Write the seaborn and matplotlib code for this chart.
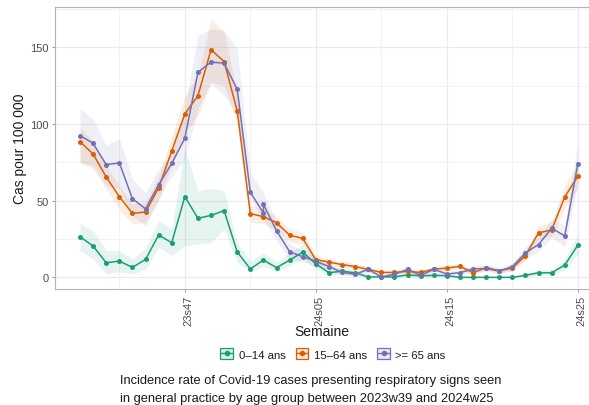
import numpy as np
import pandas as pd
import seaborn as sns
import matplotlib.pyplot as plt
from matplotlib.patches import Patch
from matplotlib.lines import Line2D
from matplotlib.ticker import MultipleLocator
from matplotlib.transforms import ScaledTranslation

# semaines 2023s39 -> 2024s25
weeks = ['23s%02d' % w for w in range(39, 53)] + ['24s%02d' % w for w in range(1, 26)]
tick_weeks = ['23s47', '24s05', '24s15', '24s25']

groups = ['0\u201314 ans', '15\u201364 ans', '>= 65 ans']
colors = ['#1B9E77', '#D95F02', '#7570B3']

inc_0_14 = [26.5, 20.4, 9.5, 10.6, 6.5, 11.7, 27.6, 22.6, 52.6, 38.5, 40.4, 43.5, 16.5,
            5.5, 11.3, 6.3, 11.2, 16.4, 8.8, 3, 4, 2.9, 0.3, 0.3, 0.3, 1.6, 1.0, 1.3,
            1.1, 0, 0, 0, 0, 0, 1.3, 3, 3, 8, 21]
low_0_14 = [17.4, 12, 2.2, 3.7, 2.2, 5.4, 19.6, 14, 20.6, 21.7, 22.8, 31.5, 9.8,
            3.3, 7.5, 3.5, 7.5, 12, 5.5, 1.5, 2, 1.2, 0, 0, 0, 0.5, 0.2, 0.4,
            0.3, 0, 0, 0, 0, 0, 0.4, 1.5, 1.5, 5, 15]
up_0_14 = [35.2, 30.4, 17.4, 17.4, 12, 19, 37, 31.5, 83.7, 56.5, 58, 56.5, 22.8,
           10.8, 16, 10, 16, 21.5, 12.5, 5, 6.5, 5, 1.2, 1.2, 1.2, 3, 2.2, 2.5,
           2.2, 0.5, 0.5, 0.5, 0.5, 0.5, 2.5, 5, 5, 12, 28]

inc_15_64 = [88.5, 80.4, 65.4, 52.6, 41.7, 42.6, 58.3, 82.4, 106.5, 118.4, 148.4, 140.7,
             108.5, 41.5, 39.6, 35.6, 27.5, 25.4, 11.5, 10, 8.3, 7, 5.2, 3.2, 3.2, 3.9,
             3.2, 5.4, 6, 7.2, 3, 6.3, 4.3, 6, 14.2, 29, 31, 52.4, 66]
low_15_64 = [75, 70.6, 57.6, 44.6, 34.8, 36, 50, 73, 95, 105, 127, 125, 100, 36, 35, 31,
             23.5, 21.5, 9, 8, 6.5, 5.2, 3.5, 2, 2, 2.5, 2, 3.8, 4.3, 5.3, 1.8, 4.5, 3,
             4.3, 11.5, 25, 26.5, 45, 58]
up_15_64 = [98, 88.5, 72.8, 60, 48, 49, 66, 92, 118, 132, 168.5, 160, 120, 47, 44.5, 40,
            31.5, 29.5, 14, 12, 10.5, 9, 7, 4.5, 4.5, 5.5, 4.5, 7, 7.8, 9.2, 4.2, 8.2,
            5.8, 8, 17, 33.5, 36, 60, 75]

# la serie 65+ a deux valeurs pour la 15e semaine
weeks_65 = weeks[:15] + [weeks[14]] + weeks[15:]
inc_65 = [92.4, 87.4, 73.5, 74.6, 51.3, 44.6, 60.4, 74.3, 90.7, 133.7, 140.4, 139.6,
          122.6, 55.4, 42, 47.6, 30.4, 16.7, 13.4, 10.5, 7, 3.3, 2, 5.2, 0.3, 2, 5.2,
          1.3, 5.2, 2.2, 3, 5.5, 5.8, 4, 7, 16, 21.4, 32, 27, 74.2]
low_65 = [75, 72.8, 59.8, 57.6, 40, 33.7, 51, 66, 77, 110, 127, 118.5, 107, 51, 38, 24,
          12, 10, 7.5, 5, 1.5, 0.8, 3.2, 0, 0.8, 3.2, 0.3, 3.2, 0.8, 1.5, 3.5, 3.8, 2.3,
          4.5, 12, 17, 26, 20, 62]
up_65 = [110, 103, 86, 90.7, 64, 55, 70.6, 81.5, 110, 157.6, 162, 161, 149, 68.5, 55, 36,
         22, 17, 13.5, 9, 5.5, 3.5, 7.5, 1.5, 3.5, 7.5, 2.5, 7.5, 3.8, 4.8, 7.8, 8, 6,
         9.5, 20, 26, 38, 34, 88]

pos = {w: i for i, w in enumerate(weeks)}

df = pd.concat([
    pd.DataFrame({'semaine': weeks, 'cas': inc_0_14, 'groupe': groups[0]}),
    pd.DataFrame({'semaine': weeks, 'cas': inc_15_64, 'groupe': groups[1]}),
    pd.DataFrame({'semaine': weeks_65, 'cas': inc_65, 'groupe': groups[2]}),
], ignore_index=True)
df['x'] = df['semaine'].map(pos)

bands = [(low_0_14, up_0_14), (low_15_64, up_15_64), (low_65, up_65)]

sns.set_theme(style='white')
plt.rcParams['font.family'] = ['Liberation Sans', 'DejaVu Sans']

fig = plt.figure(figsize=(5.89, 4.06), dpi=100)
ax = fig.add_axes([55 / 589, 1 - 290 / 406, 1 - 55 / 589, (290 - 7.5) / 406])

xs = np.arange(len(weeks))
for (lo, hi), c in zip(bands, colors):
    ax.fill_between(xs, lo, hi, color=c, alpha=0.11, lw=0, zorder=1)

sns.lineplot(data=df, x='x', y='cas', hue='groupe', palette=dict(zip(groups, colors)),
             estimator=None, sort=False, marker='o', markersize=3.6, markeredgewidth=0,
             linewidth=1.1, legend=False, ax=ax, zorder=3)

ax.set_xlim(-1.91, 38.85)
ax.set_ylim(-7.6, 176.6)
ax.set_xticks([pos[w] for w in tick_weeks])
ax.set_xticklabels(tick_weeks, rotation=90)
ax.set_xticks([3, 13, 23, 33], minor=True)
ax.yaxis.set_major_locator(MultipleLocator(50))
ax.yaxis.set_minor_locator(MultipleLocator(25))

ax.grid(which='major', color='#EBEBEB', lw=0.9)
ax.grid(which='minor', color='#F2F2F2', lw=0.7)
ax.set_axisbelow(True)

for s in ['left', 'top', 'bottom']:
    ax.spines[s].set_visible(True)
    ax.spines[s].set_color('#B3B3B3')
    ax.spines[s].set_linewidth(0.8)
ax.spines['right'].set_visible(False)

ax.tick_params(axis='both', which='major', length=2.5, width=0.6, color='#8C8C8C',
               labelsize=8, labelcolor='#4D4D4D', pad=2, bottom=True, left=True)
ax.tick_params(axis='both', which='minor', length=0)

shift = ScaledTranslation(3.5 / 100, 0, fig.dpi_scale_trans)
for lab in ax.get_xticklabels():
    lab.set_transform(lab.get_transform() + shift)

ax.set_xlabel('Semaine', fontsize=10, color='#1A1A1A')
ax.xaxis.set_label_coords(0.5, -0.125)
ax.set_ylabel('Cas pour 100 000', fontsize=10, color='#1A1A1A', labelpad=2)

handles = [(Patch(facecolor=c, alpha=0.15, edgecolor='none'),
            Patch(facecolor='none', edgecolor=c, lw=0.9),
            Line2D([], [], color=c, marker='o', markersize=3, lw=1))
           for c in colors]
fig.legend(handles, groups, loc='center', bbox_to_anchor=(333 / 589, 1 - 355 / 406),
           ncol=3, frameon=False, fontsize=8.2, handlelength=1.1, handleheight=1.1,
           handletextpad=0.5, columnspacing=0.9, labelcolor='#1A1A1A')

fig.text(120 / 589, 1 - 381 / 406,
         'Incidence rate of Covid-19 cases presenting respiratory signs seen',
         ha='left', va='center', fontsize=9.3, color='#1A1A1A')
fig.text(120 / 589, 1 - 399 / 406,
         'in general practice by age group between 2023w39 and 2024w25',
         ha='left', va='center', fontsize=9.3, color='#1A1A1A')

fig.savefig('out.png', dpi=100)
